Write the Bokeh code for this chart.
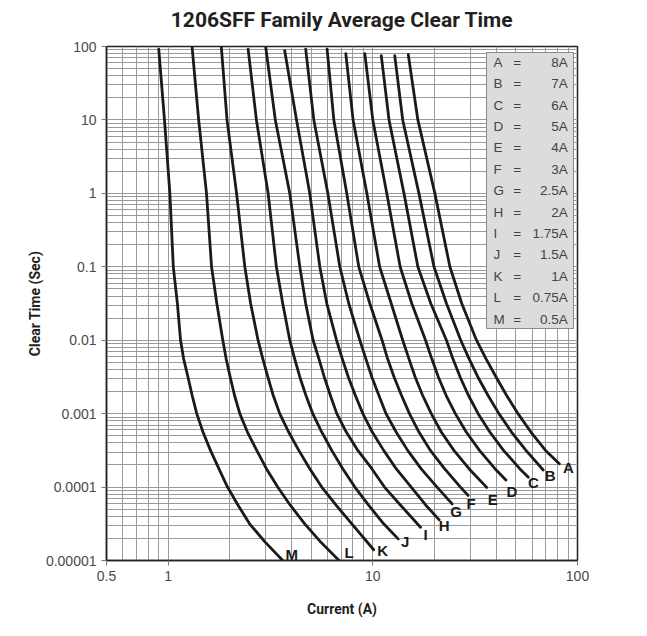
import numpy as np
from bokeh.plotting import figure
from bokeh.models import FixedTicker, CustomJSTickFormatter, Range1d, Title
from bokeh.core.properties import value
from bokeh.embed import file_html
from bokeh.resources import INLINE

# ---------------- data ----------------
title_text = "1206SFF Family Average Clear Time"
curve_names = ["A", "B", "C", "D", "E", "F", "G", "H", "I", "J", "K", "L", "M"]
ratings = ["8A", "7A", "6A", "5A", "4A", "3A", "2.5A", "2A", "1.75A", "1.5A", "1A", "0.75A", "0.5A"]

A_I = [14.9, 16.6, 20.1, 23.8, 27.2, 32.1, 35.7, 40.0, 45.0, 51.2, 59.2, 69.8, 81.5]
A_t = [78, 10, 1, 0.1, 0.0316, 0.01, 0.00562, 0.00316, 0.00178, 0.001, 0.000562, 0.000316, 0.000207]
B_I = [12.8, 14.0, 16.8, 19.9, 22.9, 26.9, 29.5, 32.6, 36.5, 41.3, 47.6, 56.0, 68.0]
B_t = [75, 10, 1, 0.1, 0.0316, 0.01, 0.00562, 0.00316, 0.00178, 0.001, 0.000562, 0.000316, 0.000171]
C_I = [11.0, 12.0, 14.2, 16.6, 19.2, 22.9, 24.6, 26.7, 29.3, 32.7, 37.3, 43.5, 52.2, 57.5]
C_t = [75, 10, 1, 0.1, 0.0316, 0.01, 0.00562, 0.00316, 0.00178, 0.001, 0.000562, 0.000316, 0.000178, 0.000136]
D_I = [9.14, 10.0, 11.7, 13.6, 15.5, 18.1, 19.4, 20.9, 22.8, 25.3, 28.6, 33.2, 39.5, 44.7]
D_t = [80, 10, 1, 0.1, 0.0316, 0.01, 0.00562, 0.00316, 0.00178, 0.001, 0.000562, 0.000316, 0.000178, 0.000125]
E_I = [7.38, 8.01, 9.35, 10.8, 12.3, 14.0, 15.0, 16.1, 17.5, 19.3, 21.6, 24.9, 29.5, 36.0]
E_t = [80, 10, 1, 0.1, 0.0316, 0.01, 0.00562, 0.00316, 0.00178, 0.001, 0.000562, 0.000316, 0.000178, 0.000099]
F_I = [5.98, 6.45, 7.46, 8.54, 9.67, 11.1, 11.8, 12.7, 13.8, 15.1, 16.8, 19.1, 22.4, 26.8, 29.2]
F_t = [92, 10, 1, 0.1, 0.0316, 0.01, 0.00562, 0.00316, 0.00178, 0.001, 0.000562, 0.000316, 0.000178, 0.0001, 0.000077]
G_I = [4.70, 5.15, 6.03, 6.90, 7.63, 8.64, 9.24, 9.89, 10.7, 11.6, 13.0, 14.8, 17.2, 20.6, 24.4]
G_t = [92, 10, 1, 0.1, 0.0316, 0.01, 0.00562, 0.00316, 0.00178, 0.001, 0.000562, 0.000316, 0.000178, 0.0001, 0.000059]
H_I = [3.71, 4.24, 4.92, 5.51, 5.96, 6.65, 7.09, 7.59, 8.21, 8.94, 9.94, 11.3, 13.0, 15.4, 18.2, 21.1]
H_t = [88, 10, 1, 0.1, 0.0316, 0.01, 0.00562, 0.00316, 0.00178, 0.001, 0.000562, 0.000316, 0.000178, 0.0001, 0.0000562, 0.0000358]
I_I = [3.00, 3.34, 3.93, 4.40, 4.70, 5.11, 5.45, 5.79, 6.20, 6.67, 7.42, 8.45, 9.89, 11.4, 13.7, 17.1]
I_t = [97, 10, 1, 0.1, 0.0316, 0.01, 0.00562, 0.00316, 0.00178, 0.001, 0.000562, 0.000316, 0.000178, 0.0001, 0.0000562, 0.0000284]
J_I = [2.46, 2.70, 3.08, 3.38, 3.63, 3.93, 4.15, 4.40, 4.71, 5.09, 5.63, 6.30, 7.13, 8.17, 9.56, 11.3, 13.3]
J_t = [92, 10, 1, 0.1, 0.0316, 0.01, 0.00562, 0.00316, 0.00178, 0.001, 0.000562, 0.000316, 0.000178, 0.0001, 0.0000562, 0.0000316, 0.0000197]
K_I = [1.82, 1.94, 2.16, 2.37, 2.53, 2.75, 2.90, 3.07, 3.26, 3.51, 3.88, 4.35, 4.92, 5.63, 6.63, 7.90, 10.1]
K_t = [97, 10, 1, 0.1, 0.0316, 0.01, 0.00562, 0.00316, 0.00178, 0.001, 0.000562, 0.000316, 0.000178, 0.0001, 0.0000562, 0.0000316, 0.000014]
L_I = [1.31, 1.41, 1.54, 1.63, 1.73, 1.85, 1.92, 2.01, 2.11, 2.24, 2.44, 2.71, 3.02, 3.43, 3.96, 4.65, 5.57, 6.84]
L_t = [97, 10, 1, 0.1, 0.0316, 0.01, 0.00562, 0.00316, 0.00178, 0.001, 0.000562, 0.000316, 0.000178, 0.0001, 0.0000562, 0.0000316, 0.0000178, 0.00001]
M_I = [0.90, 0.96, 1.02, 1.06, 1.11, 1.15, 1.19, 1.25, 1.31, 1.38, 1.48, 1.61, 1.77, 1.95, 2.20, 2.50, 2.98, 3.63]
M_t = [92, 10, 1, 0.1, 0.0316, 0.01, 0.00562, 0.00316, 0.00178, 0.001, 0.000562, 0.000316, 0.000178, 0.0001, 0.0000562, 0.0000316, 0.0000178, 0.00001]

x_ticks = [0.5, 1, 10, 100]
x_minor = [0.6, 0.7, 0.8, 0.9, 2, 3, 4, 5, 6, 7, 8, 9, 20, 30, 40, 50, 60, 70, 80, 90]
y_ticks = [0.00001, 0.0001, 0.001, 0.01, 0.1, 1, 10, 100]
y_minor = [m * d for d in [0.00001, 0.0001, 0.001, 0.01, 0.1, 1, 10] for m in range(2, 10)]

curves = {
    "A": (A_I, A_t), "B": (B_I, B_t), "C": (C_I, C_t), "D": (D_I, D_t),
    "E": (E_I, E_t), "F": (F_I, F_t), "G": (G_I, G_t), "H": (H_I, H_t),
    "I": (I_I, I_t), "J": (J_I, J_t), "K": (K_I, K_t), "L": (L_I, L_t),
    "M": (M_I, M_t),
}

# ---------------- layout / style ----------------
W, H = 631, 620
FL, FT, FR, FB = 106, 46, 54, 60
FW, FH = W - FL - FR, H - FT - FB
X0, X1, Y0, Y1 = 0.5, 100, 0.00001, 100

# curve label offsets (pixels) from each curve's last point
label_dx = {"A": 9, "B": 7, "C": 5, "D": 6, "E": 6, "F": 3, "G": 4, "H": 5, "I": 5, "J": 7, "K": 9, "L": 10, "M": 9}
label_dy = {"A": 4, "B": 6, "C": 5, "D": 12, "E": 12, "F": 8, "G": 8, "H": 6, "I": 7, "J": 3, "K": 1, "L": -8, "M": -6}


def fx(px):
    return 10 ** (np.log10(X0) + px / FW * np.log10(X1 / X0))


def fy(py):
    return 10 ** (np.log10(Y1) - py / FH * np.log10(Y1 / Y0))


p = figure(width=W, height=H, x_axis_type="log", y_axis_type="log",
           x_range=Range1d(X0, X1), y_range=Range1d(Y0, Y1),
           output_backend="svg", toolbar_location=None,
           min_border_left=FL, min_border_right=FR, min_border_top=FT, min_border_bottom=FB,
           title=title_text)

p.title.align = "center"
p.title.text_font = "Roboto"
p.title.text_font_size = "21px"
p.title.text_font_style = "bold"
p.title.text_color = "#231f20"
p.title.standoff = 0

# empty spacer between the title and the frame
p.add_layout(Title(text=" ", text_font_size="1px", standoff=12), "above")

p.outline_line_color = "#222222"
p.outline_line_width = 1.5
p.background_fill_color = "white"
p.border_fill_color = "white"

fmt = CustomJSTickFormatter(code="return tick.toString();")
for ax, ticks, minor in ((p.xaxis[0], x_ticks, x_minor), (p.yaxis[0], y_ticks, y_minor)):
    ax.ticker = FixedTicker(ticks=ticks, minor_ticks=minor)
    ax.formatter = fmt
    ax.axis_line_color = "#222222"
    ax.axis_line_width = 1.5
    ax.major_tick_line_color = "#777777"
    ax.major_tick_out = 5
    ax.major_tick_in = 0
    ax.minor_tick_line_color = None
    ax.major_label_text_font = "Liberation Sans"
    ax.major_label_text_font_size = "14px"
    ax.major_label_text_color = "#4a4a4a"
    ax.major_label_standoff = 5
    ax.axis_label_text_font = "Roboto"
    ax.axis_label_text_font_size = "14px"
    ax.axis_label_text_font_style = "bold"
    ax.axis_label_text_color = "#231f20"

p.xaxis.axis_label = "Current (A)"
p.yaxis.axis_label = "Clear Time (Sec)"
p.xaxis.axis_label_standoff = 17
p.yaxis.axis_label_standoff = 0

for g in (p.xgrid[0], p.ygrid[0]):
    g.grid_line_color = "#9a9a9a"
    g.grid_line_width = 1
    g.minor_grid_line_color = "#9a9a9a"
    g.minor_grid_line_width = 1

# curves
for name in curve_names:
    cI, ct = curves[name]
    p.line(cI, ct, line_color="#1a1a1a", line_width=2.8, line_join="round", line_cap="round")

# curve labels
lx = [curves[n][0][-1] for n in curve_names]
ly = [curves[n][1][-1] for n in curve_names]
p.text(x=lx, y=ly, text=curve_names,
       x_offset=[label_dx[n] for n in curve_names], y_offset=[label_dy[n] for n in curve_names],
       text_align="center", text_baseline="middle",
       text_font=value("Liberation Sans"), text_font_style="bold",
       text_font_size="15px", text_color="#1a1a1a")

# legend box
p.quad(left=[fx(380)], right=[fx(467)], top=[fy(6)], bottom=[fy(282)],
       fill_color="#dcdcdc", line_color="#8a8a8a", line_width=1)
rows_y = [fy(15.7 + 21.4 * i) for i in range(len(curve_names))]
common = dict(text_baseline="middle", text_font=value("Liberation Sans"),
              text_font_size="13.5px", text_color="#444444")
p.text(x=[fx(387)] * len(curve_names), y=rows_y, text=curve_names, text_align="left", **common)
p.text(x=[fx(410.7)] * len(curve_names), y=rows_y, text=["="] * len(curve_names), text_align="center", **common)
p.text(x=[fx(461.3)] * len(curve_names), y=rows_y, text=ratings, text_align="right", **common)

open("out.html", "w").write(file_html(p, INLINE))
